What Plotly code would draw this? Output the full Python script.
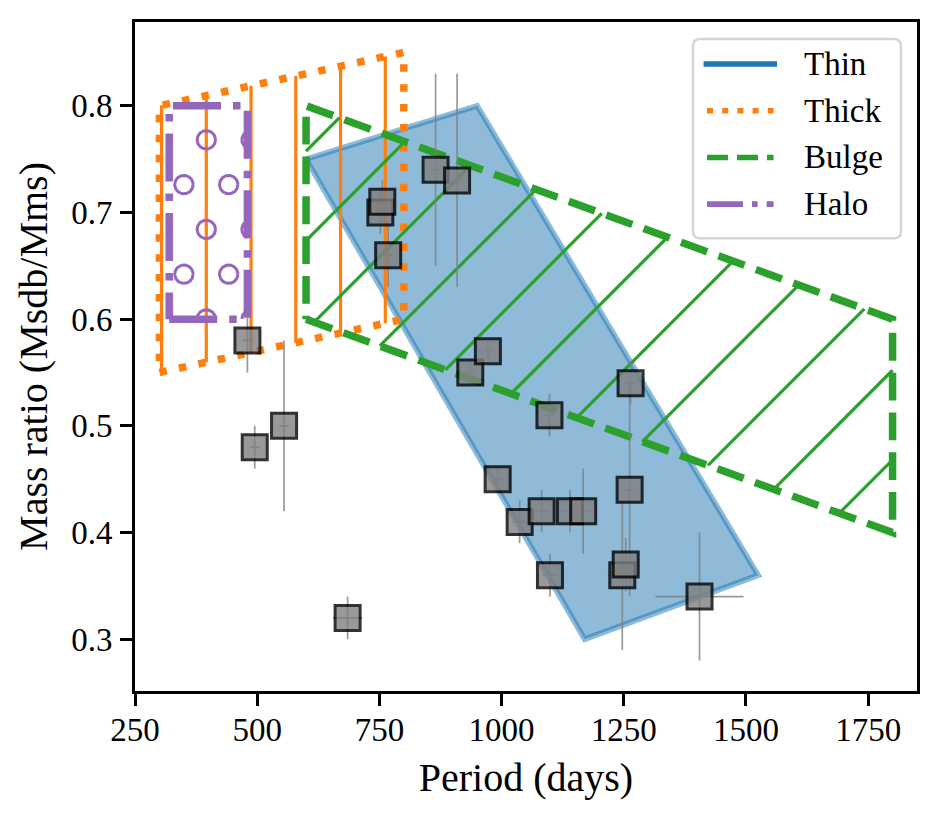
import numpy as np
import plotly.graph_objects as go

period = [480, 495, 555, 685, 752, 756, 768, 865, 909, 936, 972, 992,
          1037, 1082, 1098, 1099, 1140, 1167, 1247, 1254, 1264, 1262, 1405]
period_err = [10, 10, 10, 30, 10, 10, 10, 10, 10, 10, 10, 10,
              15, 15, 10, 15, 15, 15, 30, 15, 10, 10, 90]
mass_ratio = [0.58, 0.48, 0.50, 0.32, 0.70, 0.71, 0.66, 0.74, 0.73, 0.55, 0.57, 0.45,
              0.41, 0.42, 0.51, 0.36, 0.42, 0.42, 0.36, 0.37, 0.54, 0.44, 0.34]
mass_ratio_err = [0.03, 0.02, 0.08, 0.02, 0.02, 0.02, 0.03, 0.09, 0.10, 0.01, 0.01, 0.01,
                  0.02, 0.02, 0.02, 0.02, 0.02, 0.04, 0.07, 0.025, 0.02, 0.10, 0.06]

# population regions (polygon corners)
thin_x = [600, 950, 1525, 1170]
thin_y = [0.75, 0.80, 0.36, 0.30]
thick_x = [300, 800, 800, 300]
thick_y = [0.55, 0.60, 0.85, 0.80]
bulge_x = [600, 1800, 1800, 600]
bulge_y = [0.60, 0.40, 0.60, 0.80]
halo_x = [320, 480, 480, 320]
halo_y = [0.60, 0.60, 0.80, 0.80]

legend_labels = ['Thin', 'Thick', 'Bulge', 'Halo']
x_ticks = [250, 500, 750, 1000, 1250, 1500, 1750]
y_ticks = [0.3, 0.4, 0.5, 0.6, 0.7, 0.8]
x_range = [250, 1850]
y_range = [0.2515, 0.8785]

BLUE, ORANGE, GREEN, PURPLE = '#1f77b4', '#ff7f0e', '#2ca02c', '#9467bd'

# page is 949x829, the browser puts the plot div 8px in (body margin)
PAGE_W, PAGE_H, OFF = 949, 829, 8
W, H = PAGE_W - OFF, PAGE_H - OFF
# plot area, page pixels
L, R, T, B = 134.7, 916.7, 22.3, 690.7
FONT = 'Liberation Serif'


def to_px(x, y):
    x = np.asarray(x, float)
    y = np.asarray(y, float)
    px = L + (x - x_range[0]) / (x_range[1] - x_range[0]) * (R - L)
    py = T + (y_range[1] - y) / (y_range[1] - y_range[0]) * (B - T)
    return px, py


def to_data(px, py):
    px = np.asarray(px, float)
    py = np.asarray(py, float)
    x = x_range[0] + (px - L) / (R - L) * (x_range[1] - x_range[0])
    y = y_range[1] - (py - T) / (B - T) * (y_range[1] - y_range[0])
    return x, y


def edges(poly):
    c = poly.mean(axis=0)
    out = []
    for i in range(len(poly)):
        a, b = poly[i], poly[(i + 1) % len(poly)]
        n = np.array([b[1] - a[1], a[0] - b[0]])
        if np.dot(n, c - a) > 0:
            n = -n
        out.append((a, n))
    return out


def clip(poly, p0, d):
    t0, t1 = -1e9, 1e9
    for a, n in edges(poly):
        num = np.dot(n, p0 - a)
        den = np.dot(n, d)
        if abs(den) < 1e-12:
            if num > 0:
                return None
            continue
        t = -num / den
        if den < 0:
            t0 = max(t0, t)
        else:
            t1 = min(t1, t)
    return (t0, t1) if t0 < t1 else None


def line_hatch(xv, yv, kind, offset, step):
    # hatch lines live in screen space, like matplotlib's
    px, py = to_px(xv, yv)
    poly = np.column_stack([px, py])
    if kind == '|':
        d = np.array([0.0, 1.0])
        key = px
    else:
        d = np.array([1.0, -1.0])
        key = px + py
    hx, hy = [], []
    k0 = int(np.floor((key.min() - offset) / step))
    k1 = int(np.ceil((key.max() - offset) / step))
    for k in range(k0, k1 + 1):
        p0 = np.array([offset + k * step, 0.0])
        seg = clip(poly, p0, d)
        if seg is None:
            continue
        pa, pb = p0 + seg[0] * d, p0 + seg[1] * d
        x, y = to_data([pa[0], pb[0]], [pa[1], pb[1]])
        hx += [x[0], x[1], None]
        hy += [y[0], y[1], None]
    return hx, hy


def circle_hatch(xv, yv, x0, y0, step, r):
    px, py = to_px(xv, yv)
    poly = np.column_stack([px, py])
    eds = edges(poly)
    th = np.linspace(0, 2 * np.pi, 181)
    hx, hy = [], []
    j0 = int(np.floor((py.min() - r - y0) / step))
    j1 = int(np.ceil((py.max() + r - y0) / step))
    for j in range(j0, j1 + 1):
        cy = y0 + j * step
        xs = x0 - (j % 2) * step / 2
        i0 = int(np.floor((px.min() - r - xs) / step))
        i1 = int(np.ceil((px.max() + r - xs) / step))
        for i in range(i0, i1 + 1):
            cx = xs + i * step
            cpx = cx + r * np.cos(th)
            cpy = cy + r * np.sin(th)
            inside = np.ones(len(th), bool)
            for a, n in eds:
                inside &= (n[0] * (cpx - a[0]) + n[1] * (cpy - a[1])) <= 0
            if not inside.any():
                continue
            x, y = to_data(cpx, cpy)
            for k in range(len(th)):
                if inside[k]:
                    hx.append(x[k])
                    hy.append(y[k])
                elif hx and hx[-1] is not None:
                    hx.append(None)
                    hy.append(None)
            hx.append(None)
            hy.append(None)
    return hx, hy


def closed(v):
    return list(v) + [v[0]]


fig = go.Figure()

# Thin disc
fig.add_trace(go.Scatter(x=closed(thin_x), y=closed(thin_y), mode='lines', fill='toself',
                         fillcolor='rgba(31,119,180,0.5)',
                         line=dict(color='rgba(31,119,180,0.5)', width=5.6)))

# Thick disc
hx, hy = line_hatch(thick_x, thick_y, '|', 206.0, 44.75)
fig.add_trace(go.Scatter(x=hx, y=hy, mode='lines', line=dict(color=ORANGE, width=3.2)))
fig.add_trace(go.Scatter(x=closed(thick_x), y=closed(thick_y), mode='lines',
                         line=dict(color=ORANGE, width=7.5, dash='7.5px,12.4px')))

# Bulge
hx, hy = line_hatch(bulge_x, bulge_y, '/', 457.0, 89.5)
fig.add_trace(go.Scatter(x=hx, y=hy, mode='lines', line=dict(color=GREEN, width=3.2)))
fig.add_trace(go.Scatter(x=closed(bulge_x), y=closed(bulge_y), mode='lines',
                         line=dict(color=GREEN, width=7.5, dash='27.8px,12px')))

# Halo
hx, hy = circle_hatch(halo_x, halo_y, 206.0, 140.0, 44.75, 9.2)
fig.add_trace(go.Scatter(x=hx, y=hy, mode='lines', line=dict(color=PURPLE, width=3)))
fig.add_trace(go.Scatter(x=closed(halo_x), y=closed(halo_y), mode='lines',
                         line=dict(color=PURPLE, width=7.5, dash='48px,12px,7.5px,12px')))

# measurements
fig.add_trace(go.Scatter(
    x=period, y=mass_ratio, mode='markers',
    marker=dict(symbol='square', size=25, color='gray', opacity=0.8,
                line=dict(color='black', width=3)),
    error_x=dict(type='data', array=period_err, color='rgba(128,128,128,0.8)',
                 thickness=1.7, width=0),
    error_y=dict(type='data', array=mass_ratio_err, color='rgba(128,128,128,0.8)',
                 thickness=1.7, width=0)))


# hand-made legend (matplotlib-like long handles)
def xp(px):
    return (px - L) / (R - L)


def yp(py):
    return (B - py) / (B - T)


bx0, bx1, by0, by1, rad = 692.7, 900.7, 39.3, 238.3, 7
rx, ry = rad / (R - L), rad / (B - T)
X0, X1, Y0, Y1 = xp(bx0), xp(bx1), yp(by1), yp(by0)
box = (f'M {X0 + rx},{Y0} L {X1 - rx},{Y0} Q {X1},{Y0} {X1},{Y0 + ry} '
       f'L {X1},{Y1 - ry} Q {X1},{Y1} {X1 - rx},{Y1} '
       f'L {X0 + rx},{Y1} Q {X0},{Y1} {X0},{Y1 - ry} '
       f'L {X0},{Y0 + ry} Q {X0},{Y0} {X0 + rx},{Y0} Z')
shapes = [dict(type='path', xref='paper', yref='paper', path=box,
               fillcolor='rgba(255,255,255,0.8)', line=dict(color='#d5d5d5', width=2.5))]
handles = [(BLUE, 'solid', 703.3, 776.7), (ORANGE, '6px,9.2px', 706.7, 773.3),
           (GREEN, '21px,9px', 706.7, 773.3), (PURPLE, '36px,9px,5.6px,9px', 706.7, 773.3)]
annotations = []
for k, (lab, (col, dash, hx0, hx1)) in enumerate(zip(legend_labels, handles)):
    y_item = 64.3 + k * 46.67
    shapes.append(dict(type='line', xref='paper', yref='paper',
                       x0=xp(hx0), x1=xp(hx1), y0=yp(y_item), y1=yp(y_item),
                       line=dict(color=col, width=5.6, dash=dash)))
    annotations.append(dict(text=lab, xref='paper', yref='paper', x=xp(801.7), y=yp(y_item),
                            xanchor='left', yanchor='middle', showarrow=False,
                            font=dict(family=FONT, size=33, color='black')))

fig.update_layout(
    width=W, height=H, showlegend=False,
    margin=dict(l=L - OFF, r=PAGE_W - R, t=T - OFF, b=PAGE_H - B, pad=0),
    paper_bgcolor='white', plot_bgcolor='white',
    font=dict(family=FONT, size=33, color='black'),
    shapes=shapes, annotations=annotations)
axis_style = dict(showline=True, linecolor='black', linewidth=2.7, mirror=True,
                  ticks='outside', ticklen=12, tickwidth=2.7, tickcolor='black',
                  showgrid=False, zeroline=False, automargin=False)
fig.update_xaxes(range=x_range, tickvals=x_ticks, ticklabelstandoff=-4,
                 title=dict(text='Period (days)', standoff=16), **axis_style)
fig.update_yaxes(range=y_range, tickvals=y_ticks, ticklabelstandoff=1,
                 title=dict(text='Mass ratio (Msdb/Mms)', standoff=12), **axis_style)
for tr in fig.data:
    tr.hoverinfo = 'skip'

fig.write_html('out.html')
